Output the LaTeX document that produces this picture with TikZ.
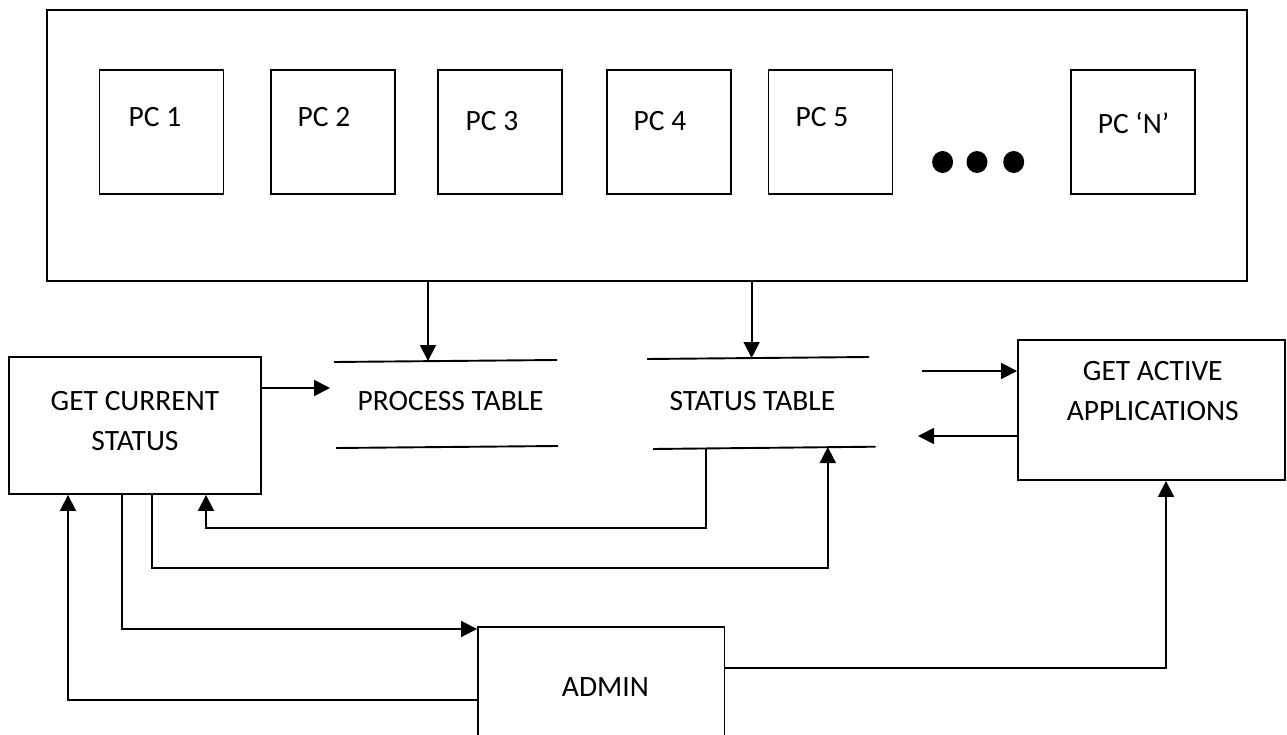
\documentclass[tikz,border=0pt]{standalone}
\usepackage{fontspec}
\setmainfont{Carlito}
\usetikzlibrary{arrows.meta}
\tikzset{
  box/.style={draw, line width=1.9pt, inner sep=0pt},
  pcbox/.style={box, minimum width=124pt, minimum height=124pt},
  lbl/.style={font=\fontsize{29.5}{40}\selectfont, align=center, inner sep=0pt},
  wire/.style={line width=1.9pt},
  arr/.style={wire, -{Triangle[length=16pt,width=16pt]}},
}
\begin{document}
\begin{tikzpicture}[x=1pt,y=1pt,yscale=-1]
    \useasboundingbox (0,0) rectangle (1287,735);
    \clip (0,0) rectangle (1287,735);
    % the PCs
    \node[box, minimum width=1200pt, minimum height=271pt] (net) at (647,145.5) {};
    \foreach \n/\cx/\tx/\ty/\t in {1/161.5/155/117/PC 1, 2/333/324/117/PC 2,
        3/500/492/121/PC 3, 4/669/660/121/PC 4, 5/830.5/822/117/PC 5,
        N/1133/1133.5/123/PC ‘N’}
      {\node[pcbox] (pc\n) at (\cx,132) {};
       \node[lbl] (pc\n-t) at (\tx,\ty) {\t};}
    \foreach \x in {942.6,977,1013.7}
      \fill (\x,162) ellipse (10.5 and 11);
    % processes
    \node[box, minimum width=252pt, minimum height=137pt] (gcs) at (135,425.5) {};
    \node[lbl] (gcs-t) at (135,421) {GET CURRENT\\STATUS};
    \node[box, minimum width=267pt, minimum height=140pt] (gaa) at (1151.5,410) {};
    \node[lbl] (gaa-t) at (1152.8,390.7) {GET ACTIVE\\APPLICATIONS};
    \node[box, minimum width=246.5pt, minimum height=140pt] (admin) at (601.25,697) {};
    \node[lbl] (admin-t) at (605.4,687) {ADMIN};
    % data stores
    \node[lbl] (ptab) at (450.6,401) {PROCESS TABLE};
    \draw[wire] (334,362) -- (557,360) (336,448) -- (558,446);
    \node[lbl] (stab) at (752.4,401) {STATUS TABLE};
    \draw[wire] (647,359) -- (869,357) (653,449) -- (875.5,446.7);
    % flows
    \coordinate (pt-in) at (428,361);
    \coordinate (st-in) at (751.6,358);
    \coordinate (pt-w) at (330,388);
    \coordinate (st-e1) at (922,371);
    \coordinate (st-e2) at (918,436);
    \coordinate (st-out) at (706.4,448);
    \coordinate (st-back) at (827.8,447);
    \coordinate (g-in1) at (206,528);
    \coordinate (g-out1) at (152,568);
    \coordinate (g-out2) at (122,629);
    \coordinate (g-in2) at (68,700);
    \coordinate (a-out) at (1166,668);
    \draw[arr] (net.south -| pt-in) -- (pt-in);
    \draw[arr] (net.south -| st-in) -- (st-in);
    \draw[arr] (gcs.east |- pt-w) -- (pt-w);
    \draw[arr] (st-e1) -- (st-e1 -| gaa.west);
    \draw[arr] (st-e2 -| gaa.west) -- (st-e2);
    \draw[arr] (st-out) |- (g-in1) -- (g-in1 |- gcs.south);
    \draw[arr] (gcs.south -| g-out1) |- (st-back |- g-out1) -- (st-back);
    \draw[arr] (gcs.south -| g-out2) |- (admin.west |- g-out2);
    \draw[arr] (admin.west |- g-in2) -| (gcs.south -| g-in2);
    \draw[arr] (admin.east |- a-out) -| (gaa.south -| a-out);
\end{tikzpicture}
\end{document}
